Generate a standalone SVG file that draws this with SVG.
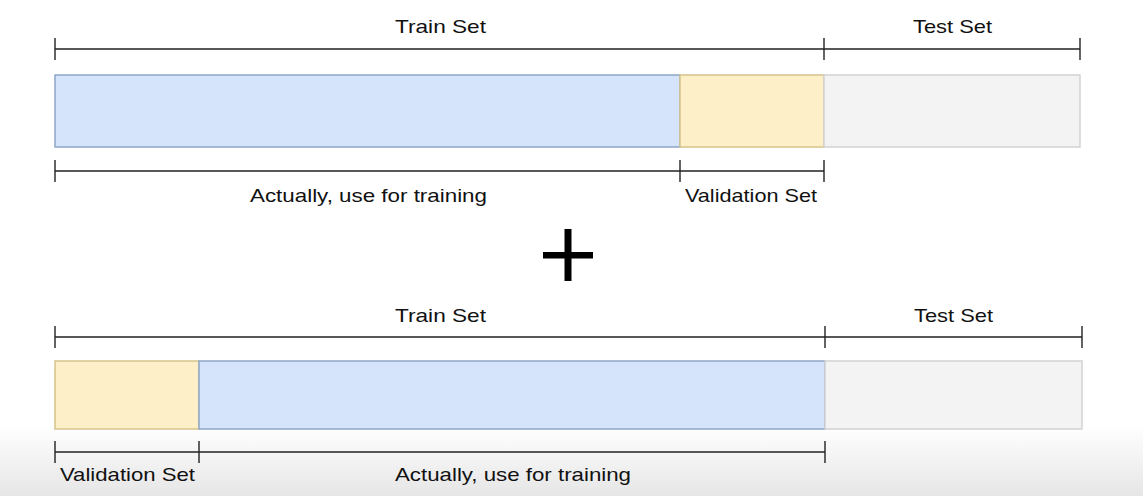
<svg xmlns="http://www.w3.org/2000/svg" width="1143" height="496" viewBox="0 0 1143 496">
<defs>
<linearGradient id="bg" x1="0" y1="0" x2="0" y2="1">
<stop offset="0" stop-color="#ffffff"/>
<stop offset="1" stop-color="#e6e6e6"/>
</linearGradient>
</defs>
<style>
.t{font-family:"Liberation Sans",Arial,sans-serif;font-size:18.5px;fill:#111;}
.br{stroke:#222;stroke-width:1.4;fill:none;}
.blue{fill:#d5e4fa;stroke:#8ea6c8;stroke-width:1.5;}
.yel{fill:#fdefc8;stroke:#d6c48a;stroke-width:1.5;}
.gry{fill:#f3f3f3;stroke:#d2d2d2;stroke-width:1.5;}
</style>
<rect x="0" y="0" width="1143" height="496" fill="#ffffff"/>
<rect x="0" y="425" width="1143" height="71" fill="url(#bg)"/>
<g id="connectors">
<path class="br" d="M55 49H824M55 38V60M824 38V60M824 49H1080M1080 38V60"/>
<path class="br" d="M55 171H824M55 160V182M680 160V182M824 160V182"/>
<path class="br" d="M55 337H825M55 326V348M825 326V348M825 337H1082M1082 326V348"/>
<path class="br" d="M55 452H825M55 441V463M199 441V463M825 441V463"/>
</g>
<g id="top-bar">
<rect class="blue" x="55" y="75" width="625" height="72"/>
<rect class="yel" x="680" y="75" width="144" height="72"/>
<rect class="gry" x="824" y="75" width="256" height="72"/>
</g>
<g id="top-labels">
<text class="t" x="395" y="32.5" textLength="91" lengthAdjust="spacingAndGlyphs">Train Set</text>
<text class="t" x="913" y="32.5" textLength="79" lengthAdjust="spacingAndGlyphs">Test Set</text>
<text class="t" x="250" y="202" textLength="237" lengthAdjust="spacingAndGlyphs">Actually, use for training</text>
<text class="t" x="685" y="202" textLength="132" lengthAdjust="spacingAndGlyphs">Validation Set</text>
</g>
<g id="plus">
<rect x="543" y="252" width="50" height="6.5" fill="#000"/>
<rect x="564.5" y="229" width="7" height="52" fill="#000"/>
</g>
<g id="bottom-bar">
<rect class="yel" x="55" y="361" width="144" height="68"/>
<rect class="blue" x="199" y="361" width="626" height="68"/>
<rect class="gry" x="825" y="361" width="257" height="68"/>
</g>
<g id="bottom-labels">
<text class="t" x="395" y="321.5" textLength="91" lengthAdjust="spacingAndGlyphs">Train Set</text>
<text class="t" x="914" y="321.5" textLength="79" lengthAdjust="spacingAndGlyphs">Test Set</text>
<text class="t" x="60" y="481" textLength="135" lengthAdjust="spacingAndGlyphs">Validation Set</text>
<text class="t" x="395" y="481" textLength="236" lengthAdjust="spacingAndGlyphs">Actually, use for training</text>
</g>
</svg>
